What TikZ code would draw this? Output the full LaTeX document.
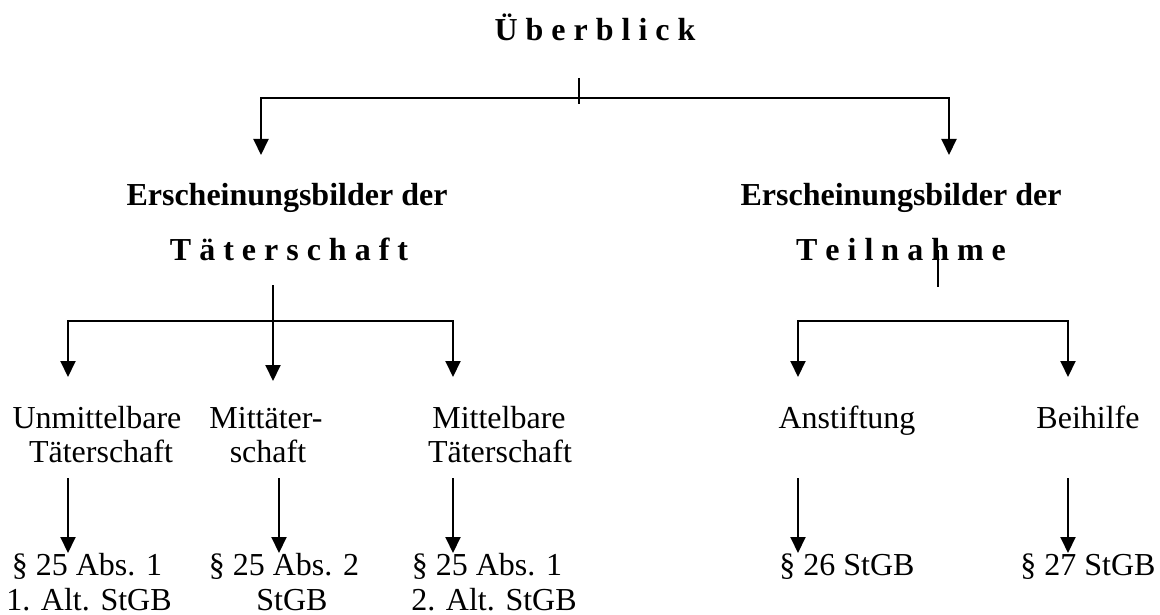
\documentclass[tikz,border=0pt]{standalone}
\usepackage{fontspec}
\setmainfont{Liberation Serif}
\usetikzlibrary{arrows.meta}
\begin{document}
\begin{tikzpicture}[x=1pt,y=-1pt,
  txt/.style={inner sep=0pt, anchor=base, font=\fontsize{32}{36}\selectfont},
  btxt/.style={inner sep=0pt, anchor=base, font=\fontsize{32}{36}\selectfont\bfseries},
  conn/.style={line width=2pt, line join=miter},
  arr/.style={conn, -{Triangle[length=16pt,width=15pt]}},
  arr2/.style={conn, {Triangle[length=16pt,width=15pt]}-{Triangle[length=16pt,width=15pt]}},
  tickline/.style={line width=1.5pt}]
\useasboundingbox (0,0) rectangle (1160,615);

% texts
\node[btxt] (title) at (595,41) {Ü b e r b l i c k};
\node[btxt] (e1) at (287,205) {Erscheinungsbilder der};
\node[btxt] (t1) at (289,260) {T ä t e r s c h a f t};
\node[btxt] (e2) at (901,205) {Erscheinungsbilder der};
\node[btxt] (t2) at (901,260) {T e i l n a h m e};

\node[txt] (u1) at (97,428) {Unmittelbare};
\node[txt] (u2) at (101,462) {Täterschaft};
\node[txt] (m1) at (266,428) {Mittäter-};
\node[txt] (m2) at (268,462) {schaft};
\node[txt] (mb1) at (499,428) {Mittelbare};
\node[txt] (mb2) at (500,462) {Täterschaft};
\node[txt] (an) at (847,428) {Anstiftung};
\node[txt] (bh) at (1088,428) {Beihilfe};

\node[txt] (p1a) at (87,575) {§ 25 Abs. 1};
\node[txt] (p1b) at (89,610) {1. Alt. StGB};
\node[txt] (p2a) at (284,575) {§ 25 Abs. 2};
\node[txt] (p2b) at (292,610) {StGB};
\node[txt] (p3a) at (487,575) {§ 25 Abs. 1};
\node[txt] (p3b) at (494,610) {2. Alt. StGB};
\node[txt] (p4) at (847,575) {§ 26 StGB};
\node[txt] (p5) at (1088,575) {§ 27 StGB};

% top bracket
\coordinate (tt1) at (579,78);
\coordinate (tt2) at (579,104);
\coordinate (tl) at (261,98);
\coordinate (tr) at (949,98);
\coordinate (tlt) at (261,155);
\coordinate (trt) at (949,155);
\draw[tickline] (tt1) -- (tt2);
\draw[arr2] (tlt) -- (tl) -- (tr) -- (trt);

% left group
\coordinate (lv1) at (273,285);
\coordinate (lv2) at (273,381);
\coordinate (ll) at (68,321);
\coordinate (lr) at (453,321);
\coordinate (llt) at (68,377);
\coordinate (lrt) at (453,377);
\draw[arr] (lv1) -- (lv2);
\draw[arr2] (llt) -- (ll) -- (lr) -- (lrt);

% right group
\coordinate (rv1) at (938,250);
\coordinate (rv2) at (938,287);
\coordinate (rl) at (798,321);
\coordinate (rr) at (1068,321);
\coordinate (rlt) at (798,377);
\coordinate (rrt) at (1068,377);
\draw[tickline] (rv1) -- (rv2);
\draw[arr2] (rlt) -- (rl) -- (rr) -- (rrt);

% bottom arrows
\foreach \n/\x in {a/68,b/279,c/453,d/798,e/1068}{
  \coordinate (s\n) at (\x,478);
  \coordinate (e\n) at (\x,553);
  \draw[arr] (s\n) -- (e\n);
}
\end{tikzpicture}
\end{document}
